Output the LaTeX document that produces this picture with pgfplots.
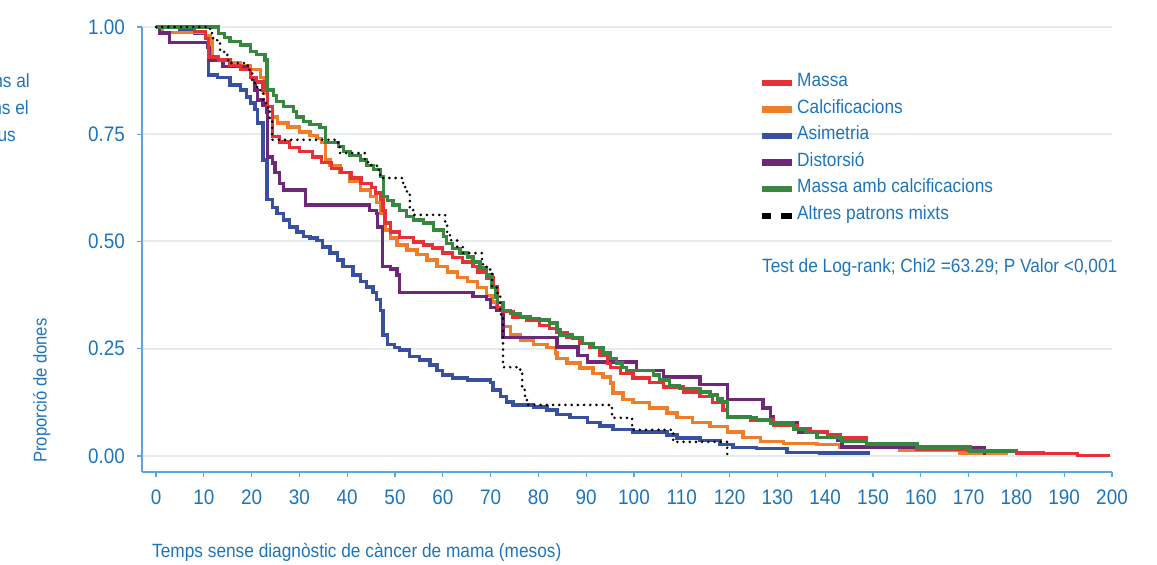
\documentclass[border=0pt]{standalone}
\usepackage{pgfplots}
\pgfplotsset{compat=1.18}
\usepackage{fontspec}
\setmainfont{Liberation Sans}[FakeStretch=0.9]
\definecolor{txtblue}{RGB}{28,117,188}
\definecolor{axblue}{RGB}{95,165,220}
\definecolor{gridc}{RGB}{228,236,239}
\definecolor{cred}{RGB}{230,50,55}
\definecolor{corange}{RGB}{240,125,40}
\definecolor{cblue}{RGB}{55,80,160}
\definecolor{cpurple}{RGB}{110,40,120}
\definecolor{cgreen}{RGB}{55,135,65}
\begin{document}
\begin{tikzpicture}[x=1pt,y=1pt]
\useasboundingbox (0,0) rectangle (1157,565);
\begin{axis}[
  at={(142pt,93pt)}, anchor=south west,
  scale only axis, width=970pt, height=445pt,
  xmin=-2.93, xmax=200, ymin=-0.0373, ymax=1,
  axis x line*=bottom, axis y line*=left,
  axis line style={draw=axblue, line width=1.6pt, -},
  xtick={0,10,20,30,40,50,60,70,80,90,100,110,120,130,140,150,160,170,180,190,200},
  xticklabels={0,10,20,30,40,50,60,70,80,90,100,110,120,130,140,150,160,170,180,190,200},
  ytick={0,0.25,0.5,0.75,1},
  yticklabels={0.00,0.25,0.50,0.75,1.00},
  tick align=outside, major tick length=5pt,
  tick style={draw=axblue, line width=1.3pt},
  ymajorgrids, grid style={draw=gridc, line width=2pt},
  ticklabel style={font=\fontsize{21}{24}\selectfont, text=txtblue, inner sep=0pt},
  yticklabel style={xshift=-12pt},
  xticklabel style={yshift=-13pt},
  clip=false,
]
% Asimetria
\addplot[cblue, const plot, line width=3.2pt] coordinates {
(0,1.0)(5,0.993)(8.0,0.986)(10.3,0.977)(10.9,0.888)(12.8,0.883)(15.5,0.865)(17.6,0.853)(19.0,0.837)(19.7,0.823)(20.7,0.807)(21.3,0.776)(22.4,0.690)(23.2,0.597)(24.3,0.580)(25.3,0.566)(26.6,0.550)(28.0,0.534)(29.5,0.522)(30.8,0.512)(32.2,0.508)(33.7,0.503)(34.9,0.487)(36.4,0.473)(37.9,0.457)(39.1,0.441)(41.2,0.422)(42.7,0.406)(44.1,0.394)(45.4,0.382)(46.2,0.364)(46.9,0.340)(47.5,0.282)(48.5,0.259)(49.9,0.252)(51.0,0.247)(53.1,0.231)(55.2,0.224)(57.3,0.212)(58.8,0.200)(60.0,0.189)(62.1,0.182)(65.1,0.177)(69.9,0.172)(70.5,0.154)(72.0,0.138)(73.4,0.126)(74.7,0.119)(78.9,0.114)(81.8,0.107)(83.9,0.096)(86.6,0.089)(90.2,0.079)(92.9,0.070)(95.6,0.061)(99.8,0.056)(106.9,0.049)(109.0,0.042)(113.8,0.037)(118.0,0.026)(120.7,0.019)(125.7,0.017)(132.0,0.009)(138.9,0.007)(149.4,0.007)
};
% Calcificacions
\addplot[corange, const plot, line width=3.2pt] coordinates {
(0,1.0)(1.3,0.988)(10.3,0.981)(11.3,0.974)(11.7,0.923)(15.5,0.916)(17.6,0.911)(19.7,0.900)(21.8,0.883)(22.8,0.846)(23.4,0.814)(24.3,0.790)(25.5,0.776)(27.6,0.767)(30.1,0.755)(32.2,0.748)(33.7,0.741)(34.7,0.730)(35.4,0.690)(36.4,0.678)(38.5,0.660)(40.6,0.639)(42.7,0.620)(44.8,0.604)(46.2,0.590)(46.9,0.566)(47.9,0.527)(49.0,0.508)(50.4,0.492)(52.5,0.480)(54.6,0.469)(56.7,0.457)(58.8,0.441)(60.9,0.429)(63.0,0.417)(65.1,0.406)(67.2,0.392)(69.2,0.375)(70.3,0.359)(71.3,0.340)(72.6,0.301)(74.1,0.282)(76.2,0.270)(78.9,0.259)(81.8,0.252)(83.5,0.240)(83.9,0.228)(86.0,0.217)(88.7,0.205)(91.4,0.193)(93.5,0.184)(95.0,0.170)(95.6,0.147)(97.7,0.131)(99.8,0.124)(103.3,0.112)(106.9,0.100)(109.0,0.089)(112.3,0.079)(115.9,0.068)(119.5,0.056)(122.8,0.044)(126.4,0.033)(131.2,0.030)(138.3,0.026)(143.1,0.019)(155.6,0.014)(168.2,0.007)(178,0.003)
};
% Distorsio
\addplot[cpurple, const plot, line width=3.2pt] coordinates {
(0,1.0)(0.8,0.986)(2.9,0.963)(10.7,0.953)(11.1,0.923)(14.0,0.907)(19.2,0.900)(19.7,0.883)(20.7,0.853)(21.3,0.830)(22.4,0.818)(23.2,0.800)(23.4,0.697)(24.3,0.683)(24.9,0.660)(25.9,0.636)(26.6,0.620)(31.2,0.585)(44.6,0.573)(46.2,0.566)(46.4,0.534)(47.3,0.441)(49.0,0.436)(50.4,0.422)(51.0,0.382)(66.3,0.371)(69.2,0.364)(69.9,0.347)(71.3,0.340)(72.6,0.277)(83.9,0.254)(88.3,0.235)(90.2,0.219)(100.6,0.200)(106.1,0.184)(113.8,0.166)(119.5,0.131)(127.0,0.112)(128.5,0.091)(129.1,0.077)(134.1,0.065)(134.5,0.056)(140.4,0.049)(142.5,0.037)(143.5,0.021)(159.2,0.019)(173.4,0.002)
};
% Massa
\addplot[cred, const plot, line width=3.2pt] coordinates {
(0,1.0)(8,0.99)(10.3,0.974)(10.9,0.930)(13,0.923)(15.5,0.911)(17.6,0.900)(19.7,0.883)(21.1,0.872)(22.4,0.853)(23.4,0.814)(24.3,0.744)(25.9,0.732)(28.0,0.720)(30.1,0.709)(32.8,0.697)(34.7,0.685)(36.7,0.671)(38.7,0.660)(40.8,0.648)(42.9,0.636)(45.0,0.625)(46.0,0.613)(46.9,0.597)(47.5,0.573)(47.9,0.543)(49.0,0.522)(51.0,0.510)(53.8,0.499)(55.9,0.492)(57.9,0.485)(60.0,0.473)(62.1,0.462)(64.2,0.452)(66.3,0.441)(67.2,0.429)(69.2,0.415)(70.5,0.394)(71.5,0.347)(72.6,0.336)(74.7,0.324)(77.6,0.317)(80.3,0.305)(82.4,0.298)(83.9,0.287)(86.0,0.277)(88.7,0.263)(90.8,0.252)(92.9,0.235)(94.4,0.215)(95.0,0.207)(97.1,0.193)(99.8,0.182)(103.3,0.172)(106.1,0.161)(110.3,0.149)(113.8,0.138)(116.5,0.124)(118.6,0.107)(119.5,0.091)(124.3,0.084)(129.1,0.072)(134.1,0.065)(136.8,0.056)(140.4,0.049)(143.1,0.042)(148.7,0.026)(159.2,0.016)(169.7,0.012)(180.1,0.007)(185.6,0.005)(192.7,0.002)(199.6,0.002)
};
% Massa amb calcificacions
\addplot[cgreen, const plot, line width=3.2pt] coordinates {
(0,1.0)(13.0,0.985)(14.4,0.975)(15.5,0.966)(17.6,0.958)(19.7,0.942)(21.1,0.935)(22.8,0.923)(23.2,0.853)(24.5,0.841)(25.2,0.826)(26.6,0.814)(28.7,0.803)(29.4,0.790)(30.8,0.779)(32.2,0.772)(34.3,0.765)(35.4,0.730)(38.1,0.721)(39.2,0.710)(40.6,0.700)(42.7,0.690)(44.1,0.678)(45.5,0.667)(46.9,0.651)(47.6,0.604)(48.5,0.595)(49.6,0.585)(51.0,0.573)(52.4,0.558)(53.8,0.550)(55.9,0.543)(58.0,0.527)(60.1,0.511)(60.8,0.496)(62.1,0.484)(63.6,0.473)(65.1,0.464)(66.3,0.452)(67.8,0.438)(69.2,0.422)(70.3,0.394)(71.0,0.370)(71.5,0.357)(72.6,0.340)(74.1,0.333)(76.2,0.324)(78.3,0.320)(80.3,0.317)(82.4,0.310)(83.9,0.294)(84.5,0.282)(87.2,0.275)(89.3,0.263)(91.4,0.252)(93.5,0.240)(95.0,0.228)(96.4,0.217)(97.5,0.207)(98.5,0.200)(104.0,0.189)(105.4,0.177)(107.5,0.165)(109.6,0.158)(113.8,0.149)(115.9,0.142)(117.4,0.133)(118.4,0.126)(119.5,0.089)(125.7,0.084)(128.5,0.077)(133.3,0.061)(136.0,0.054)(138.3,0.044)(143.5,0.033)(148.7,0.028)(159.2,0.021)(170.3,0.010)(179.3,0.008)
};
% Altres patrons mixts
\addplot[black, const plot, line width=2.9pt, line cap=round, dash pattern=on 0pt off 6.2pt] coordinates {
(0,1.0)(11.3,0.993)(11.7,0.974)(12.8,0.963)(13.4,0.942)(14.4,0.935)(15.1,0.916)(19.2,0.900)(20.1,0.876)(20.7,0.860)(21.8,0.846)(22.4,0.823)(23.4,0.807)(23.8,0.783)(24.3,0.737)(38.1,0.720)(38.5,0.706)(43.7,0.685)(44.8,0.678)(46.2,0.667)(46.9,0.648)(51.7,0.627)(52.5,0.613)(53.1,0.580)(53.8,0.562)(60.5,0.543)(60.9,0.520)(61.5,0.503)(63.0,0.487)(64.2,0.473)(68.2,0.457)(68.4,0.441)(69.9,0.434)(70.3,0.394)(71.3,0.380)(72.0,0.330)(72.6,0.207)(76.2,0.193)(76.6,0.154)(77.2,0.135)(77.6,0.119)(95.4,0.089)(99.6,0.061)(108.2,0.033)(119.5,0.0)
};
\end{axis}
% axis labels
\node[anchor=base west, rotate=90, text=txtblue, inner sep=0pt, font=\fontsize{18.5}{22}\selectfont] at (46.5,102) {Proporció de dones};
\node[anchor=base west, text=txtblue, inner sep=0pt, font=\fontsize{19.2}{22}\selectfont] at (152,7) {Temps sense diagnòstic de càncer de mama (mesos)};
% fragments of a text that runs off the left edge
\begin{scope}[every node/.style={anchor=base east, text=txtblue, inner sep=0pt, font=\fontsize{19.2}{22}\selectfont}]
\node at (30,477) {ns al};
\node at (29,450) {ns el};
\node at (16,423) {us};
\end{scope}
% legend
\begin{scope}[every node/.style={anchor=base west, text=txtblue, inner sep=0pt, font=\fontsize{19.2}{22}\selectfont}]
\draw[cred, line width=6.5pt] (762,482) -- (792,482);
\node at (797,478) {Massa};
\draw[corange, line width=6.5pt] (762,455.5) -- (792,455.5);
\node at (797,451.5) {Calcificacions};
\draw[cblue, line width=6.5pt] (762,429) -- (792,429);
\node at (797,425) {Asimetria};
\draw[cpurple, line width=6.5pt] (762,402.5) -- (792,402.5);
\node at (797,398.5) {Distorsió};
\draw[cgreen, line width=6.5pt] (762,376) -- (792,376);
\node at (797,372) {Massa amb calcificacions};
\draw[black, line width=6.5pt] (762,349) -- (771,349) (781,349) -- (792,349);
\node at (797,345) {Altres patrons mixts};
\node at (762,292) {Test de Log-rank; Chi2 =63.29; P Valor <0,001};
\end{scope}
\end{tikzpicture}
\end{document}
